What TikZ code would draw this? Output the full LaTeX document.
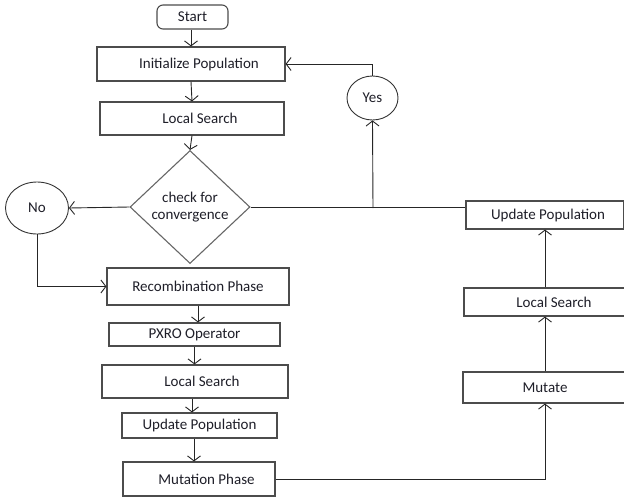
\documentclass[tikz,border=0pt]{standalone}
\usepackage{fontspec}
\setmainfont{Carlito}
\usetikzlibrary{shapes.geometric,arrows.meta}
\definecolor{txt}{HTML}{1E1E28}
\tikzset{
  box/.style={draw=black!70, line width=1.1pt, inner sep=0pt, font=\fontsize{15}{17}\selectfont, text=txt},
  oval/.style={draw=black!80, line width=0.9pt, ellipse, inner sep=0pt, font=\fontsize{15}{17}\selectfont, text=txt},
  conn/.style={draw=black!85, line width=0.9pt},
  arr/.style={conn, -{Straight Barb[length=5pt,width=13pt]}}
}
\begin{document}
\begin{tikzpicture}[x=1pt,y=-1pt]
\useasboundingbox (0,0) rectangle (624,498);
\clip (0,0) rectangle (624,498);
\node[box, rounded corners=6pt, minimum width=71pt, minimum height=24pt] (start) at (192.5,17) {Start};
\node[box, minimum width=188pt, minimum height=34pt] (init) at (191,64) {\hspace*{16pt}Initialize Population};
\node[box, minimum width=184pt, minimum height=33pt] (ls1) at (192,118.5) {\hspace*{16pt}Local Search};
\node[box, diamond, draw=black!60, minimum width=120pt, minimum height=113pt, align=center] (dia) at (190,207) {check for\\convergence};
\node[oval, minimum width=63pt, minimum height=52pt] (no) at (37,208) {No};
\node[oval, minimum width=51pt, minimum height=44pt] (yes) at (372.5,98) {Yes};
\node[box, minimum width=182pt, minimum height=37pt] (rec) at (198,286.5) {Recombination Phase};
\node[box, minimum width=171pt, minimum height=23pt] (pxro) at (194.5,334.5) {PXRO Operator};
\node[box, minimum width=186pt, minimum height=33pt] (ls2) at (195,381.5) {\hspace*{14pt}Local Search};
\node[box, minimum width=155pt, minimum height=25pt] (up2) at (199.5,425.5) {Update Population};
\node[box, minimum width=152pt, minimum height=34pt] (mph) at (199,479) {\hspace*{15pt}Mutation Phase};
\node[box, minimum width=158pt, minimum height=28pt] (up3) at (545,215) {\hspace*{6pt}Update Population};
\node[box, minimum width=162pt, minimum height=28pt] (ls3) at (545,302) {\hspace*{18pt}Local Search};
\node[box, minimum width=164pt, minimum height=31pt] (mut) at (545,387.5) {Mutate};
\coordinate (junc) at (373,208);
\draw[arr] (start.south -| init.north) -- (init.north);
\draw[arr] (init.south) -- (ls1.north);
\draw[arr] (ls1.south) -- (dia.north);
\draw[arr] (dia.west) -- (no.east);
\draw[arr] (no.south) |- (rec.west);
\draw[arr] (rec.south) -- (rec.south |- pxro.north);
\draw[arr] (pxro.south) -- (pxro.south |- ls2.north);
\draw[arr] (ls2.south -| 192,0) -- (192,0 |- up2.north);
\draw[arr] (194,0 |- up2.south) -- (194,0 |- mph.north);
\draw[arr] (mph.east) -| (mut.south);
\draw[arr] (mut.north) -- (ls3.south);
\draw[arr] (ls3.north) -- (up3.south);
\draw[conn] (dia.east) -- (dia.east -| up3.west);
\draw[arr] (junc) -- (yes.south);
\draw[arr] (yes.north) |- (init.east);
\end{tikzpicture}
\end{document}
